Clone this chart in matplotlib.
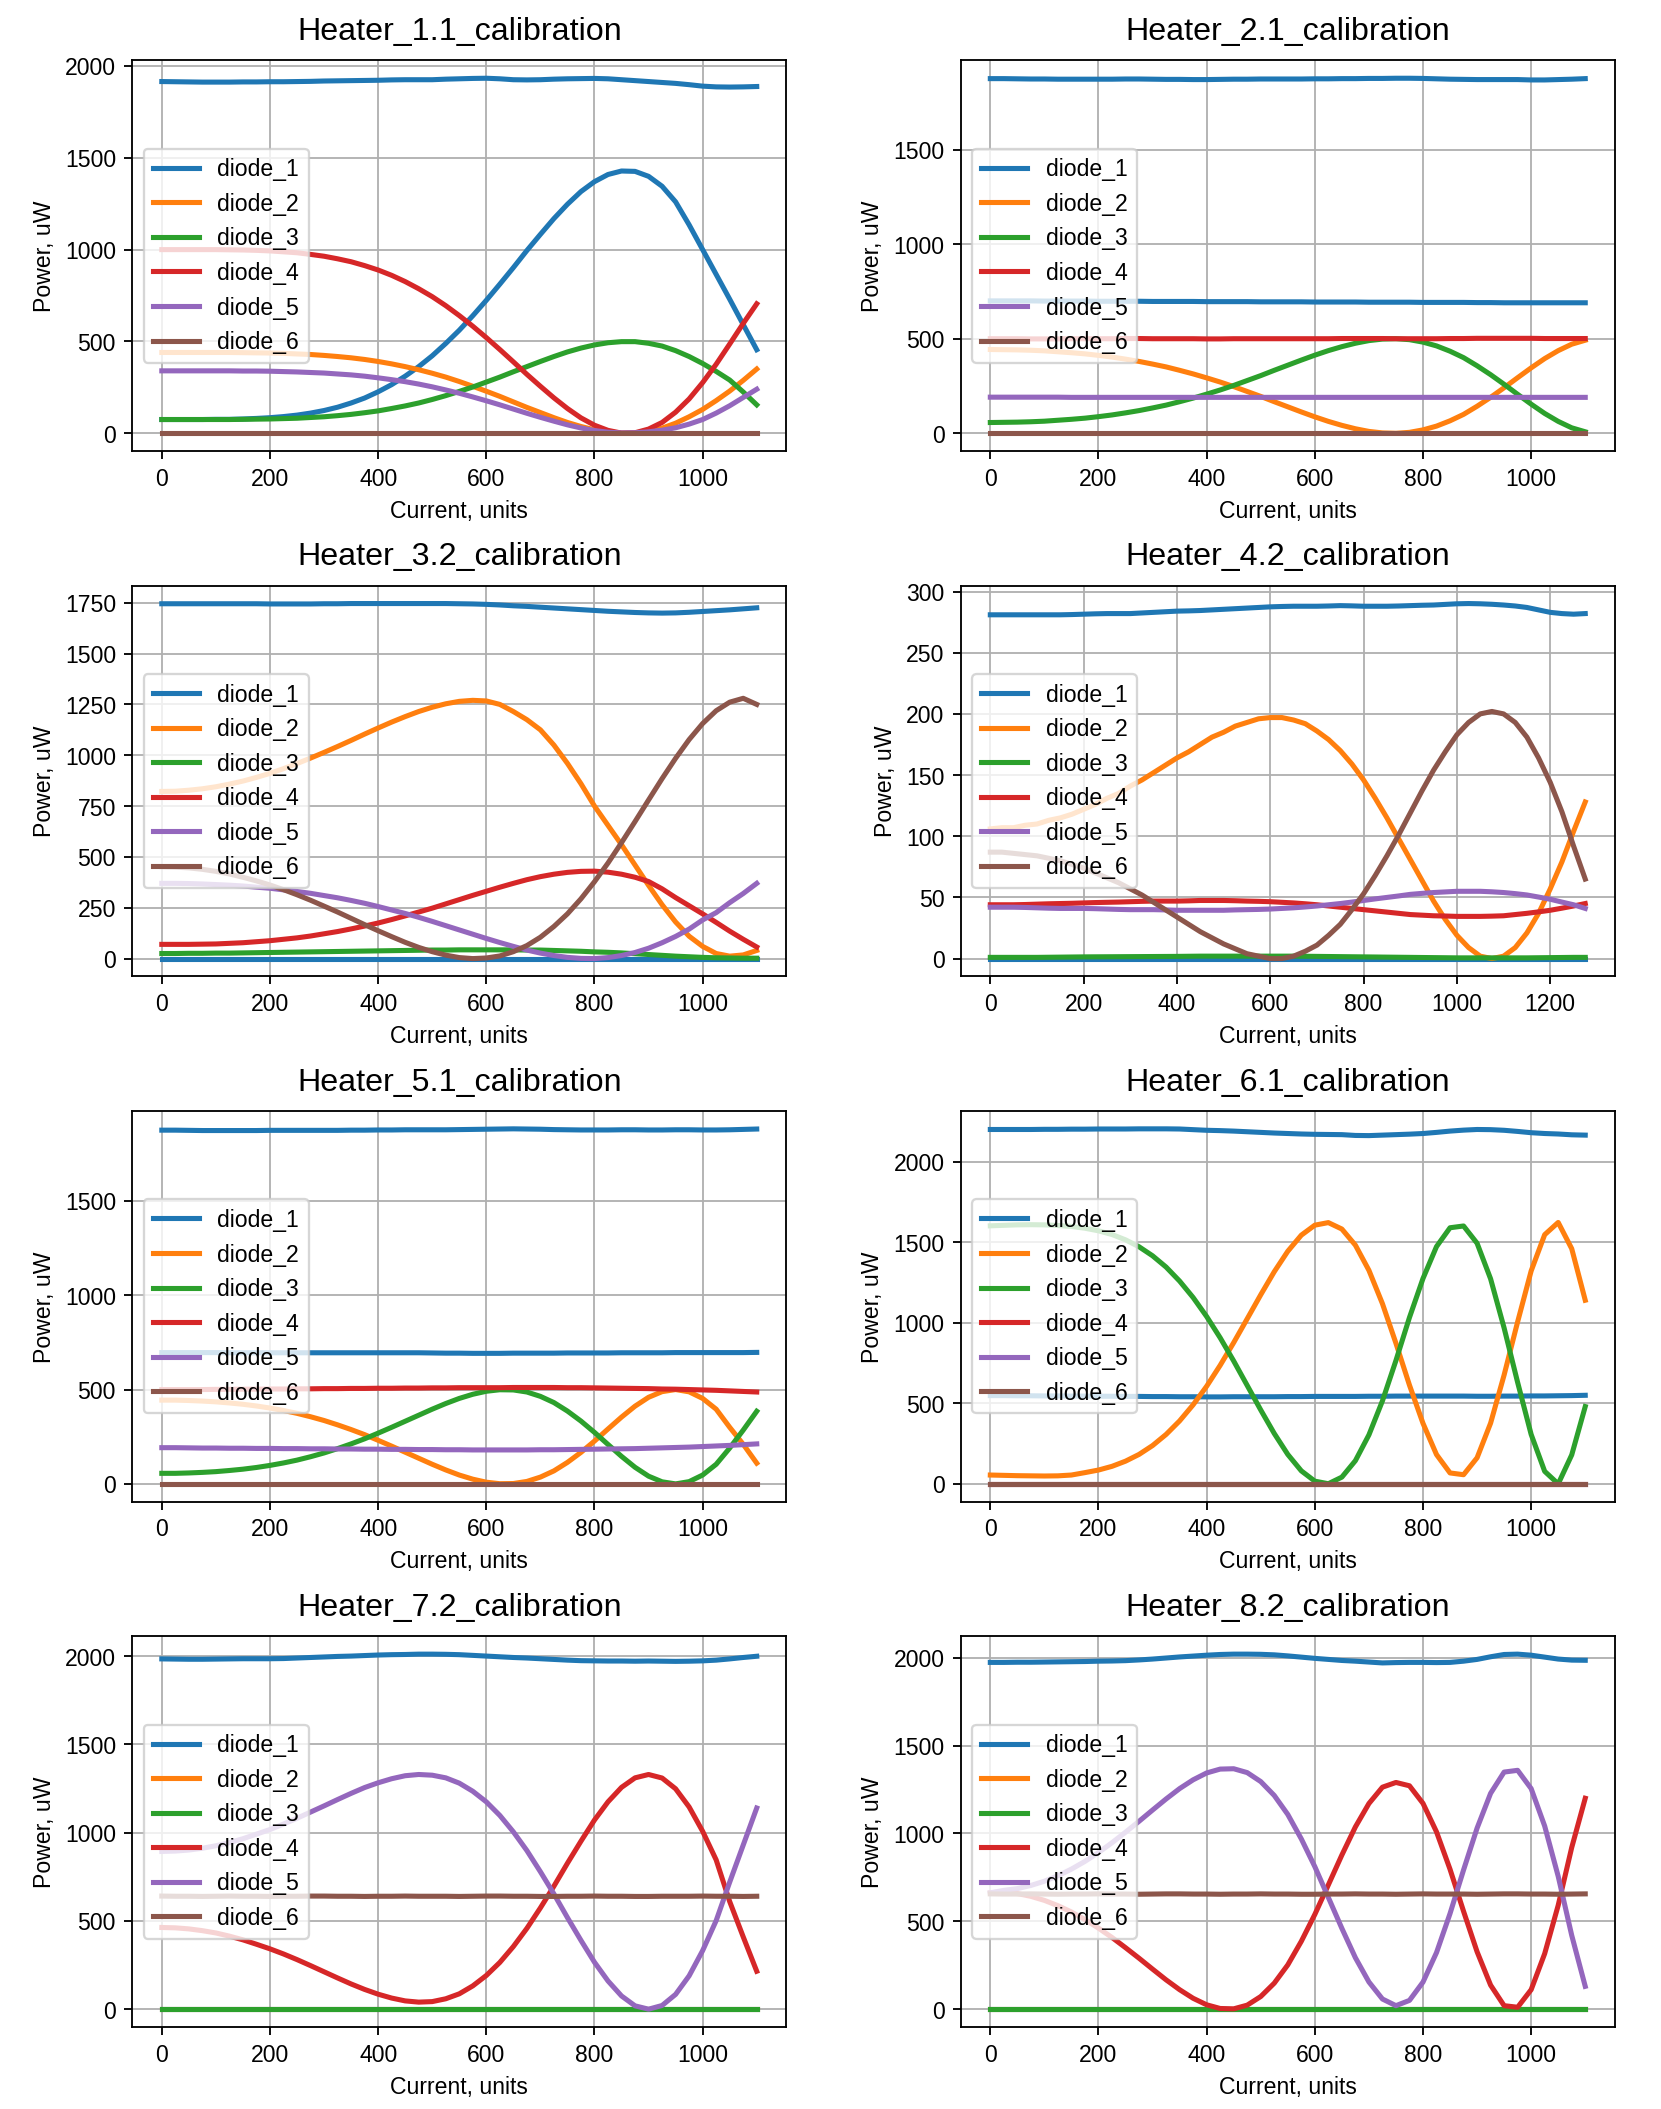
import numpy as np
import matplotlib
matplotlib.use("Agg")
import matplotlib.pyplot as plt

plt.rcParams['font.family'] = ['Liberation Sans', 'DejaVu Sans']
plt.rcParams['font.size'] = 10

# current grids (units)
x25 = np.arange(0, 1101, 25)
x42 = np.arange(0, 1276, 25)

titles = ["Heater_1.1_calibration", "Heater_2.1_calibration",
          "Heater_3.2_calibration", "Heater_4.2_calibration",
          "Heater_5.1_calibration", "Heater_6.1_calibration",
          "Heater_7.2_calibration", "Heater_8.2_calibration"]
labels = ["diode_1", "diode_2", "diode_3", "diode_4", "diode_5", "diode_6"]

# ---- Heater 1.1 ----
h11_ref = [1915, 1914, 1913, 1912, 1912, 1912, 1913, 1913, 1914, 1914,
           1915, 1916, 1918, 1919, 1920, 1921, 1922, 1924, 1925, 1925,
           1925, 1928, 1930, 1932, 1933, 1930, 1925, 1924, 1925, 1928,
           1930, 1931, 1932, 1930, 1925, 1920, 1915, 1910, 1905, 1898,
           1890, 1886, 1885, 1886, 1888]
h11_d1 = [75, 75, 75, 75, 76, 76, 78, 81, 85, 91,
          99, 110, 124, 142, 165, 192, 226, 265, 311, 363,
          422, 489, 561, 640, 724, 812, 902, 995, 1083, 1169,
          1247, 1316, 1370, 1409, 1428, 1426, 1399, 1345, 1260, 1135,
          1000, 865, 730, 592, 455]
h11_d2 = [440, 440, 440, 440, 440, 440, 439, 438, 437, 435,
          432, 429, 424, 418, 411, 402, 391, 378, 363, 346,
          327, 306, 282, 256, 229, 201, 171, 141, 113, 85,
          59, 37, 19, 7, 1, 1, 10, 28, 55, 90,
          130, 178, 230, 288, 350]
h11_d3 = [75, 75, 75, 75, 75, 75, 76, 77, 78, 80,
          82, 86, 90, 96, 103, 112, 122, 135, 149, 165,
          184, 205, 228, 252, 279, 306, 335, 363, 391, 418,
          443, 464, 481, 493, 499, 499, 490, 475, 450, 418,
          380, 337, 290, 225, 155]
h11_d4 = [1000, 1000, 1000, 1000, 1000, 999, 998, 996, 993, 988,
          983, 974, 964, 950, 934, 913, 889, 860, 826, 787,
          744, 695, 641, 583, 521, 456, 389, 321, 256, 193,
          135, 84, 44, 16, 1, 3, 23, 59, 115, 187,
          276, 376, 486, 598, 705]
h11_d5 = [340, 340, 340, 340, 340, 340, 339, 339, 338, 336,
          334, 331, 328, 323, 318, 311, 302, 292, 281, 268,
          253, 236, 218, 198, 177, 155, 132, 109, 87, 66,
          46, 29, 15, 6, 2, 3, 8, 17, 30, 50,
          75, 110, 150, 195, 240]
h11_d6 = [0] * 45

# ---- Heater 2.1 ----
h21_ref = [1875, 1875, 1874, 1873, 1873, 1872, 1872, 1872, 1872, 1872,
           1873, 1873, 1872, 1871, 1871, 1870, 1870, 1871, 1872, 1872,
           1873, 1873, 1873, 1873, 1874, 1874, 1875, 1875, 1876, 1876,
           1877, 1877, 1876, 1874, 1872, 1871, 1870, 1870, 1870, 1870,
           1868, 1868, 1870, 1872, 1875]
h21_d1 = [700, 700, 700, 700, 699, 699, 699, 699, 698, 698,
          698, 698, 697, 697, 697, 697, 696, 696, 696, 696,
          695, 695, 695, 695, 694, 694, 694, 694, 693, 693,
          693, 693, 692, 692, 692, 692, 691, 691, 690, 690,
          690, 690, 690, 690, 690]
h21_d2 = [443, 442, 441, 439, 436, 431, 426, 420, 412, 403,
          392, 380, 366, 351, 333, 314, 293, 271, 247, 221,
          195, 167, 140, 113, 87, 63, 42, 24, 10, 2,
          0, 5, 18, 38, 66, 100, 143, 190, 241, 294,
          346, 395, 437, 471, 492]
h21_d3 = [57, 58, 59, 61, 64, 69, 74, 80, 88, 97,
          108, 120, 134, 149, 167, 186, 207, 229, 253, 279,
          305, 333, 360, 387, 413, 437, 458, 476, 490, 498,
          500, 495, 482, 462, 434, 400, 357, 310, 259, 206,
          154, 105, 63, 29, 8]
h21_d4 = [500, 500, 500, 499, 499, 499, 500, 500, 500, 500,
          501, 501, 500, 500, 500, 500, 499, 499, 500, 500,
          500, 500, 500, 500, 500, 500, 501, 501, 501, 501,
          500, 500, 500, 500, 501, 501, 502, 502, 502, 502,
          502, 501, 501, 501, 501]
h21_d5 = [191, 191, 191, 191, 191, 191, 190, 190, 190, 190,
          190, 190, 190, 190, 190, 190, 190, 190, 190, 190,
          190, 190, 190, 190, 190, 190, 190, 190, 190, 190,
          190, 190, 190, 190, 190, 190, 190, 190, 190, 190,
          190, 190, 190, 190, 190]
h21_d6 = [0] * 45

# ---- Heater 3.2 ----
h32_ref = [1745, 1745, 1745, 1745, 1745, 1745, 1745, 1745, 1744, 1744,
           1744, 1744, 1745, 1745, 1746, 1746, 1746, 1746, 1746, 1746,
           1746, 1746, 1745, 1744, 1742, 1739, 1735, 1732, 1728, 1724,
           1720, 1716, 1712, 1708, 1705, 1702, 1700, 1699, 1700, 1703,
           1707, 1711, 1715, 1720, 1725]
h32_d1 = [0] * 45
h32_d2 = [822, 823, 828, 835, 845, 858, 873, 891, 911, 934,
          959, 986, 1014, 1043, 1073, 1104, 1134, 1163, 1190, 1215,
          1236, 1253, 1265, 1270, 1267, 1250, 1215, 1175, 1125, 1050,
          960, 860, 750, 655, 560, 460, 360, 265, 180, 110,
          60, 25, 12, 18, 40]
h32_d3 = [25, 25, 26, 26, 27, 27, 28, 29, 30, 31,
          32, 33, 34, 35, 36, 37, 38, 39, 40, 41,
          42, 42, 43, 43, 43, 43, 43, 42, 42, 40,
          38, 36, 33, 31, 28, 24, 20, 16, 12, 9,
          6, 4, 3, 2, 2]
h32_d4 = [70, 70, 70, 71, 72, 75, 78, 83, 88, 95,
          102, 111, 122, 133, 146, 160, 175, 192, 210, 229,
          248, 269, 290, 311, 331, 351, 370, 388, 403, 415,
          424, 429, 430, 425, 415, 400, 379, 343, 300, 260,
          220, 178, 135, 95, 57]
h32_d5 = [370, 370, 369, 367, 364, 361, 357, 351, 346, 338,
          330, 321, 310, 299, 286, 272, 256, 239, 222, 203,
          183, 162, 141, 120, 99, 79, 60, 42, 27, 15,
          6, 1, 0, 5, 15, 30, 51, 78, 109, 145,
          190, 226, 275, 320, 370]
h32_d6 = [452, 450, 446, 439, 429, 416, 400, 382, 362, 339,
          314, 287, 258, 229, 198, 167, 137, 108, 80, 55,
          34, 17, 5, 0, 3, 13, 34, 64, 105, 158,
          220, 294, 378, 470, 570, 674, 780, 885, 985, 1077,
          1156, 1219, 1261, 1280, 1250]

# ---- Heater 4.2 ----
h42_ref = [281, 281, 281, 281, 281, 281, 281, 281.2, 281.5, 281.8,
           282, 282, 282, 282.5, 283, 283.5, 284, 284.2, 284.5, 285,
           285.5, 286, 286.5, 287, 287.5, 287.8, 288, 288, 288, 288.2,
           288.5, 288.3, 288, 288, 288, 288.2, 288.5, 288.8, 289, 289.5,
           290, 290.2, 290, 289.6, 289, 288.2, 287, 285, 283, 282,
           281.5, 282]
h42_d1 = [0] * 52
h42_d2 = [106, 107, 107, 109, 110, 113, 115, 118, 122, 126,
          131, 135, 141, 146, 152, 158, 164, 169, 175, 181,
          185, 190, 193, 196, 197, 197, 195, 192, 186, 179,
          170, 159, 146, 131, 115, 98, 81, 64, 47, 32,
          19, 9, 2, 0, 2, 9, 21, 37, 57, 79,
          104, 128]
h42_d3 = [1, 1, 1, 1, 1, 1.1, 1.2, 1.3, 1.4, 1.45,
          1.5, 1.55, 1.6, 1.65, 1.7, 1.75, 1.8, 1.9, 2, 2,
          2, 2, 2, 2, 2, 2, 2, 1.9, 1.8, 1.7,
          1.6, 1.5, 1.4, 1.3, 1.2, 1.1, 1, 0.9, 0.8, 0.7,
          0.6, 0.6, 0.6, 0.6, 0.6, 0.6, 0.6, 0.7, 0.8, 0.9,
          1, 1]
h42_d4 = [44, 44, 44, 44.2, 44.5, 44.8, 45, 45.2, 45.5, 45.8,
          46, 46.2, 46.5, 46.8, 47, 47, 47, 47.2, 47.5, 47.5,
          47.5, 47.3, 47, 46.8, 46.5, 46, 45.5, 44.8, 44, 43,
          42, 41, 40, 39, 38, 37, 36, 35.5, 35, 34.8,
          34.5, 34.5, 34.5, 34.7, 35, 36, 37, 38.2, 39.5, 41.2,
          43, 45]
h42_d5 = [42, 42, 42, 41.8, 41.5, 41.2, 41, 41, 41, 40.8,
          40.5, 40.2, 40, 40, 40, 39.8, 39.5, 39.5, 39.5, 39.5,
          39.5, 39.8, 40, 40.2, 40.5, 41, 41.5, 42.2, 43, 44,
          45, 46.2, 47.5, 48.8, 50, 51.2, 52.5, 53.3, 54, 54.5,
          55, 55, 55, 54.6, 54, 53.1, 52, 50.3, 48.5, 46.2,
          44, 41]
h42_d6 = [87, 87, 86, 85, 84, 82, 80, 77, 74, 70,
          66, 62, 57, 52, 46, 40, 34, 28, 22, 17,
          12, 8, 4, 2, 0, 0, 2, 6, 11, 19,
          28, 40, 53, 68, 84, 101, 119, 137, 154, 169,
          183, 193, 200, 202, 200, 193, 181, 164, 144, 120,
          92, 65]

# ---- Heater 5.1 ----
h51_ref = [1875, 1875, 1874, 1873, 1873, 1873, 1873, 1873, 1874, 1874,
           1874, 1874, 1874, 1874, 1875, 1875, 1876, 1876, 1877, 1877,
           1877, 1877, 1878, 1879, 1880, 1881, 1882, 1881, 1880, 1878,
           1877, 1876, 1876, 1876, 1877, 1877, 1876, 1876, 1877, 1877,
           1876, 1876, 1877, 1879, 1881]
h51_d1 = [696, 696, 696, 696, 696, 695, 695, 695, 695, 695,
          695, 695, 695, 695, 695, 695, 695, 695, 695, 695,
          694, 693, 693, 692, 692, 692, 693, 693, 693, 693,
          694, 694, 694, 694, 695, 695, 695, 695, 696, 696,
          696, 696, 696, 696, 697]
h51_d2 = [444, 444, 442, 439, 435, 429, 422, 413, 402, 389,
          374, 356, 336, 313, 288, 261, 231, 200, 168, 136,
          104, 74, 47, 25, 9, 1, 2, 13, 36, 69,
          114, 167, 227, 291, 354, 412, 459, 489, 500, 488,
          453, 396, 300, 210, 110]
h51_d3 = [56, 56, 58, 61, 65, 71, 78, 87, 98, 111,
          126, 144, 164, 187, 212, 239, 269, 300, 332, 364,
          396, 426, 453, 475, 491, 499, 498, 487, 464, 431,
          386, 333, 273, 209, 146, 88, 41, 11, 0, 12,
          47, 104, 190, 285, 385]
h51_d4 = [500, 500, 500, 500, 501, 501, 502, 502, 503, 503,
          504, 504, 505, 505, 506, 506, 507, 507, 508, 508,
          509, 509, 510, 510, 510, 510, 511, 511, 511, 511,
          510, 510, 509, 508, 507, 506, 505, 503, 502, 500,
          498, 496, 493, 490, 487]
h51_d5 = [192, 192, 191, 190, 190, 189, 189, 188, 188, 187,
          187, 186, 186, 185, 185, 184, 184, 183, 183, 182,
          182, 181, 181, 180, 180, 180, 180, 180, 181, 181,
          182, 183, 184, 185, 186, 187, 189, 191, 193, 195,
          198, 201, 204, 208, 212]
h51_d6 = [0] * 45

# ---- Heater 6.1 ----
h61_ref = [2200, 2200, 2200, 2200, 2201, 2201, 2202, 2202, 2203, 2203,
           2203, 2204, 2204, 2204, 2203, 2199, 2195, 2193, 2190, 2186,
           2182, 2178, 2175, 2172, 2170, 2169, 2168, 2163, 2162, 2165,
           2168, 2171, 2175, 2182, 2190, 2196, 2200, 2199, 2195, 2188,
           2180, 2175, 2172, 2167, 2165]
h61_d1 = [548, 548, 547, 547, 546, 546, 545, 545, 544, 544,
          543, 543, 542, 542, 541, 541, 540, 540, 541, 541,
          541, 541, 542, 542, 543, 543, 543, 543, 544, 544,
          545, 545, 545, 545, 545, 545, 544, 544, 545, 545,
          546, 546, 547, 548, 550]
h61_d2 = [55, 53, 51, 50, 49, 50, 55, 70, 86, 109,
          141, 183, 238, 307, 391, 491, 606, 736, 877, 1025,
          1174, 1317, 1444, 1544, 1606, 1622, 1582, 1482, 1326, 1119,
          873, 613, 376, 182, 68, 57, 162, 377, 676, 1006,
          1322, 1547, 1623, 1460, 1140]
h61_d3 = [1602, 1605, 1608, 1609, 1608, 1604, 1598, 1587, 1571, 1548,
          1515, 1472, 1416, 1346, 1259, 1157, 1039, 907, 763, 611,
          459, 313, 183, 81, 17, 1, 42, 144, 304, 515,
          766, 1033, 1275, 1473, 1590, 1601, 1494, 1273, 968, 630,
          307, 78, 0, 180, 480]
h61_d4 = [0] * 45
h61_d5 = [0] * 45
h61_d6 = [0] * 45

# ---- Heater 7.2 ----
h72_ref = [1985, 1984, 1983, 1983, 1984, 1985, 1986, 1986, 1986, 1987,
           1990, 1993, 1996, 1999, 2001, 2004, 2007, 2009, 2010, 2012,
           2012, 2011, 2009, 2005, 2001, 1997, 1993, 1990, 1986, 1982,
           1978, 1975, 1974, 1973, 1973, 1972, 1973, 1972, 1971, 1972,
           1974, 1978, 1985, 1993, 2000]
h72_d1 = [0] * 45
h72_d2 = [0] * 45
h72_d3 = [0] * 45
h72_d4 = [463, 461, 455, 445, 432, 414, 393, 368, 342, 313,
          281, 247, 212, 177, 143, 112, 85, 63, 47, 40,
          43, 59, 87, 132, 191, 265, 355, 458, 574, 697,
          827, 952, 1072, 1175, 1257, 1311, 1330, 1310, 1249, 1146,
          1008, 846, 610, 410, 215]
h72_d5 = [894, 896, 902, 912, 926, 944, 966, 992, 1018, 1049,
          1082, 1117, 1152, 1188, 1223, 1256, 1283, 1306, 1323, 1330,
          1326, 1311, 1281, 1235, 1175, 1098, 1005, 899, 779, 653,
          519, 390, 266, 160, 75, 19, 0, 21, 84, 189,
          332, 502, 720, 930, 1140]
h72_d6 = [641, 640, 640, 639, 640, 641, 640, 640, 639, 640,
          640, 641, 641, 640, 640, 639, 640, 640, 641, 640,
          640, 640, 639, 640, 641, 641, 640, 640, 639, 639,
          640, 640, 641, 640, 640, 639, 639, 640, 640, 640,
          641, 640, 640, 639, 640]

# ---- Heater 8.2 ----
h82_ref = [1973, 1973, 1974, 1974, 1975, 1976, 1977, 1978, 1980, 1981,
           1983, 1987, 1992, 1998, 2004, 2009, 2014, 2018, 2020, 2020,
           2019, 2016, 2010, 2003, 1996, 1990, 1984, 1980, 1975, 1970,
           1972, 1973, 1973, 1972, 1973, 1980, 1990, 2005, 2018, 2020,
           2014, 2003, 1992, 1986, 1985]
h82_d1 = [0] * 45
h82_d2 = [0] * 45
h82_d3 = [0] * 45
h82_d4 = [662, 668, 658, 642, 619, 589, 553, 510, 461, 408,
          350, 290, 228, 167, 111, 62, 25, 4, 2, 23,
          72, 148, 252, 386, 539, 707, 877, 1037, 1170, 1263,
          1290, 1271, 1171, 1009, 796, 557, 327, 137, 20, 11,
          111, 316, 591, 920, 1200]
h82_d5 = [662, 676, 686, 704, 728, 759, 797, 841, 891, 947,
          1007, 1069, 1133, 1196, 1255, 1305, 1344, 1366, 1368, 1346,
          1295, 1216, 1108, 969, 811, 636, 460, 293, 155, 58,
          20, 50, 154, 322, 544, 792, 1030, 1228, 1349, 1359,
          1255, 1042, 756, 420, 130]
h82_d6 = [656, 655, 655, 656, 655, 654, 655, 655, 656, 655,
          655, 654, 655, 656, 656, 655, 655, 654, 655, 655,
          656, 655, 655, 654, 654, 655, 655, 656, 655, 655,
          654, 655, 656, 655, 655, 655, 654, 655, 656, 656,
          655, 655, 654, 655, 656]

panels = [
    (x25, h11_ref, [h11_d1, h11_d2, h11_d3, h11_d4, h11_d5, h11_d6]),
    (x25, h21_ref, [h21_d1, h21_d2, h21_d3, h21_d4, h21_d5, h21_d6]),
    (x25, h32_ref, [h32_d1, h32_d2, h32_d3, h32_d4, h32_d5, h32_d6]),
    (x42, h42_ref, [h42_d1, h42_d2, h42_d3, h42_d4, h42_d5, h42_d6]),
    (x25, h51_ref, [h51_d1, h51_d2, h51_d3, h51_d4, h51_d5, h51_d6]),
    (x25, h61_ref, [h61_d1, h61_d2, h61_d3, h61_d4, h61_d5, h61_d6]),
    (x25, h72_ref, [h72_d1, h72_d2, h72_d3, h72_d4, h72_d5, h72_d6]),
    (x25, h82_ref, [h82_d1, h82_d2, h82_d3, h82_d4, h82_d5, h82_d6]),
]

fig, axes = plt.subplots(4, 2, figsize=(10, 12.7))
fig.subplots_adjust(left=0.0795, right=0.9723, top=0.9711, bottom=0.0389,
                    wspace=0.266, hspace=0.345)

for ax, title, (x, ref, diodes) in zip(axes.flat, titles, panels):
    ax.plot(x, ref, color='C0', lw=2.2)
    for i, (lab, y) in enumerate(zip(labels, diodes)):
        ax.plot(x, y, color=f'C{i}', lw=2.2, label=lab)
    ax.set_title(title, fontsize=14, pad=9)
    ax.set_xlabel('Current, units')
    ax.set_ylabel('Power, uW')
    ax.grid(True)
    ax.legend(loc='center left')

fig.savefig('out.png', dpi=166.1)
